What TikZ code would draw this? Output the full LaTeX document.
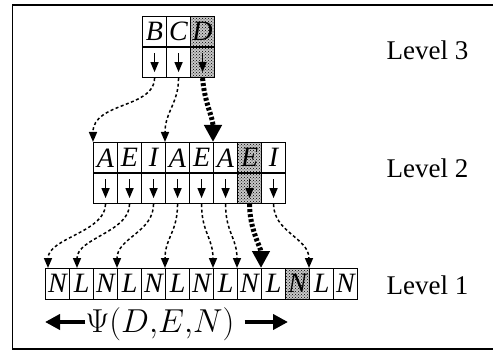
\documentclass[tikz,border=0pt]{standalone}
\usepackage{fontspec}
\setmainfont{Liberation Serif}
\usepackage{amsmath}
\usetikzlibrary{arrows.meta,patterns}

\tikzset{
  cell/.style={draw, line width=1.1pt, minimum width=24pt, minimum height=30.5pt,
    inner sep=0pt, anchor=north west, font=\fontsize{28}{28}\selectfont\itshape},
  plain/.style={},
  shaded/.style={preaction={fill=black!22}, pattern=crosshatch dots, pattern color=black},
  tick/.style={line width=1.4pt, -{Triangle[length=10pt,width=8pt]}},
  ptr/.style={line width=1.5pt, dash pattern=on 3pt off 2.5pt,
    -{Triangle[length=10pt,width=8pt]}},
  bigptr/.style={line width=5pt, dash pattern=on 3pt off 2pt,
    -{Triangle[length=17pt,width=17pt]}},
  lvl/.style={anchor=west, font=\fontsize{27}{27}\selectfont},
  span/.style={line width=4pt, -{Triangle[length=15pt,width=15pt]}}
}

\begin{document}
\begin{tikzpicture}[x=1pt, y=-1pt]
    \useasboundingbox (0,0) rectangle (493,350);
    \clip (0,0) rectangle (493,350);
    \draw[line width=1.5pt] (12.5,5) rectangle (510,349);

    % Level 3: letters and their pointer cells
    \foreach \l/\s [count=\i from 0] in {B/plain,C/plain,D/shaded} {
        \node[cell,\s] (t3-\i) at ({142+24*\i},16) {\l};
        \node[cell,\s] (a3-\i) at ({142+24*\i},46.5) {};
        \draw[tick] ([yshift=-7pt]a3-\i.north) -- ([yshift=6pt]a3-\i.south);
    }

    % Level 2
    \foreach \l/\s [count=\i from 0] in {A/plain,E/plain,I/plain,A/plain,E/plain,A/plain,E/shaded,I/plain} {
        \node[cell,\s] (t2-\i) at ({93+24*\i},142) {\l};
        \node[cell,\s] (a2-\i) at ({93+24*\i},172.5) {};
        \draw[tick] ([yshift=-7pt]a2-\i.north) -- ([yshift=6pt]a2-\i.south);
    }

    % Level 1: only the letters
    \foreach \l/\s [count=\i from 0] in {N/plain,L/plain,N/plain,L/plain,N/plain,L/plain,N/plain,L/plain,N/plain,L/plain,N/shaded,L/plain,N/plain} {
        \node[cell,\s] (t1-\i) at ({45+24*\i},268) {\l};
    }

    % pointers from level 3 down to level 2
    \draw[ptr] (a3-0.south) .. controls +(0,30) and +(0,-40) .. (t2-0.north west);
    \draw[ptr] (a3-1.south) .. controls +(0,25) and +(0,-30) .. (t2-3.north west);
    \draw[bigptr] (a3-2.south) .. controls +(2,25) and +(0,-25) .. (t2-5.north west);

    % pointers from level 2 down to level 1
    \foreach \s/\t/\dx in {0/0/3, 1/1/8, 2/3/0, 3/5/0, 4/7/0, 5/8/0, 7/11/0} {
        \draw[ptr] (a2-\s.south) .. controls +(0,28) and +(0,-30) .. ([xshift=\dx pt]t1-\t.north west);
    }
    \draw[bigptr] (a2-6.south) .. controls +(0,25) and +(0,-20) .. (t1-9.north west);

    % level names
    \node[lvl] (lv3) at (383,50) {Level 3};
    \node[lvl] (lv2) at (383,168) {Level 2};
    \node[lvl] (lv1) at (383,285) {Level 1};

    % range of Psi under level 1
    \node[inner sep=0pt, font=\fontsize{20.74}{24}\selectfont, scale=1.6, transform shape]
        (psi) at (160,324) {$\Psi(D{,}E{,}N)$};
    \coordinate (lend) at (45,322);
    \coordinate (rend) at (288,322);
    \draw[span] ([yshift=2pt]psi.west) -- (lend);
    \draw[span] ([xshift=10pt,yshift=2pt]psi.east) -- (rend);
\end{tikzpicture}
\end{document}
